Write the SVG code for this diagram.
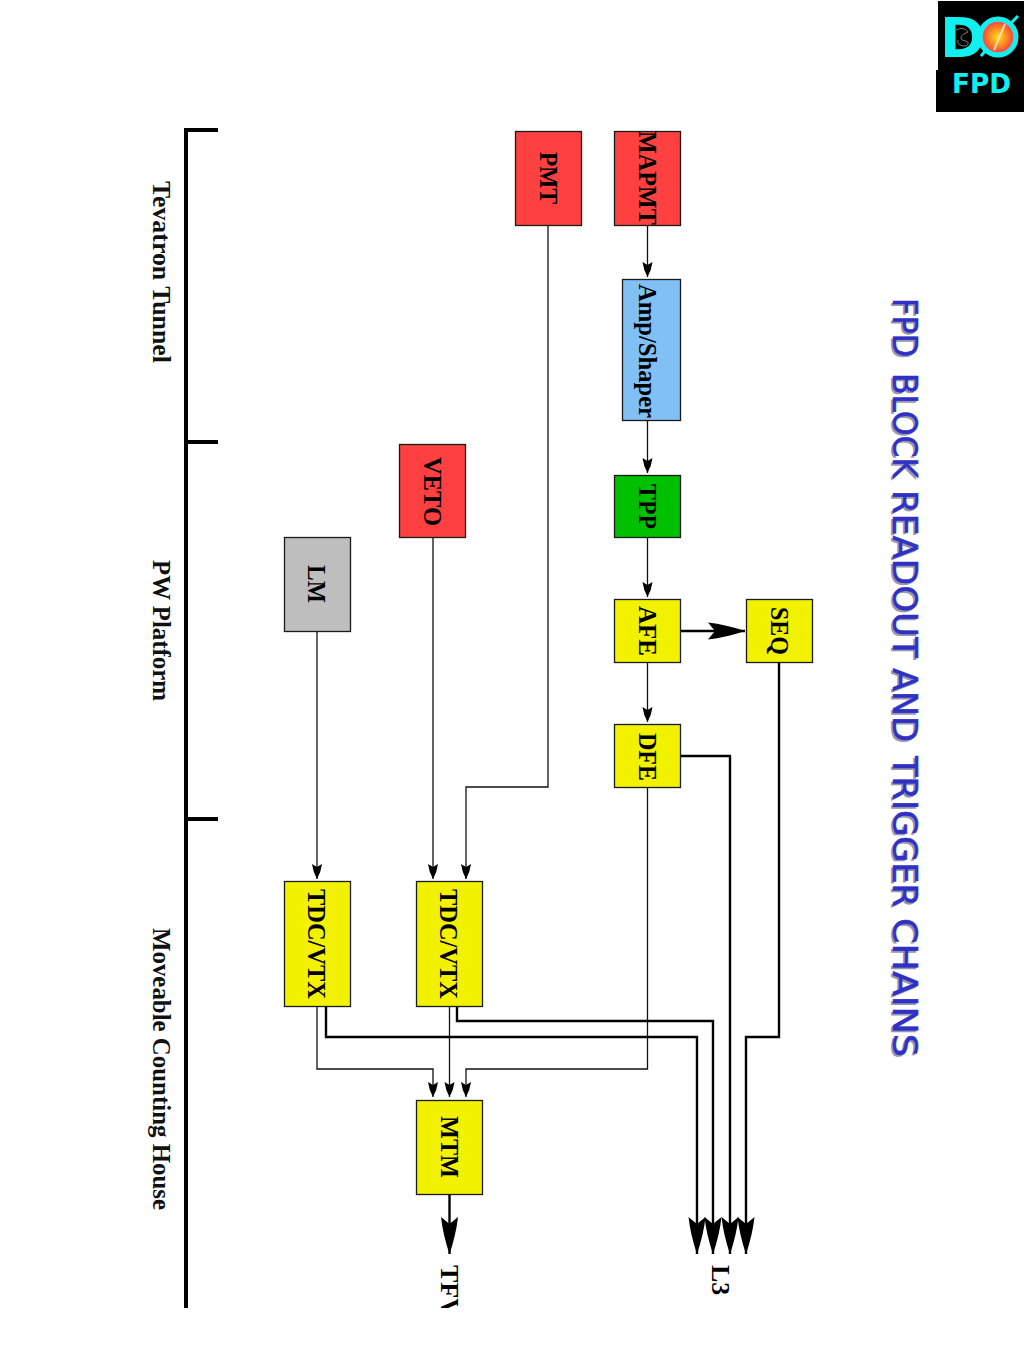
<svg xmlns="http://www.w3.org/2000/svg" width="1024" height="1365" viewBox="0 0 1024 1365">
<style>
.b{stroke:#1a1a1a;stroke-width:1.3}
.r{fill:#ff4040}.y{fill:#f2f200}.l{font:bold 26px "Liberation Serif",serif;fill:#000}
.t{font:bold 26px "Liberation Serif",serif;fill:#111}
.thin{fill:none;stroke:#111;stroke-width:1.3;marker-end:url(#s)}
.thick{fill:none;stroke:#000;stroke-width:2.4;marker-end:url(#L)}
.title{font:33px "DejaVu Sans",sans-serif}
.ts{fill:#6a6a90;opacity:.7}
.tf{fill:#3030c4;stroke:#3030c4;stroke-width:.5}
</style>
<defs>
<marker id="s" markerUnits="userSpaceOnUse" markerWidth="18" markerHeight="12" refX="15" refY="5" orient="auto"><path d="M0,0 Q8,1 15,5 Q8,9 0,10 L3,5Z" fill="#000"/></marker>
<marker id="L" markerUnits="userSpaceOnUse" markerWidth="40" markerHeight="20" refX="37" refY="9" orient="auto"><path d="M0,0.5 Q18,2.5 37,9 Q18,15.5 0,17.5 L7,9Z" fill="#000"/></marker>
<clipPath id="c"><rect x="430" y="1255" width="40" height="53"/></clipPath>
<radialGradient id="fire"><stop offset="0" stop-color="#ffe020"/><stop offset=".45" stop-color="#ff9020"/><stop offset=".8" stop-color="#f05040"/><stop offset="1" stop-color="#ffb0a0"/></radialGradient>
</defs>
<rect width="1024" height="1365" fill="#fff"/>
<g id="logo">
<path d="M938,1 H1024 V112 H936 V70 H938Z" fill="#000"/>
<text x="940" y="57" font-family="DejaVu Sans" font-weight="bold" font-size="55" fill="#10f0f0">D</text>
<path d="M956,30 Q964,26 968,32 Q958,36 962,40 Q972,42 966,46 Q956,46 958,40" fill="none" stroke="#777" stroke-width="1"/>
<circle cx="998" cy="37" r="18" fill="url(#fire)" stroke="#10f0f0" stroke-width="5"/>
<path d="M981,56 L986,50 M1010,24 L1018,16" stroke="#10f0f0" stroke-width="3"/>
<path d="M1005,24 L994,50" stroke="#fff0c0" stroke-width="2" opacity=".8"/>
<text x="952" y="93" font-family="DejaVu Sans" font-weight="bold" font-size="26" fill="#10f0f0" textLength="59" lengthAdjust="spacingAndGlyphs">FPD</text>
</g>
<g id="title">
<g class="title ts">
<text transform="translate(891,300) rotate(90)" textLength="59" lengthAdjust="spacingAndGlyphs">FPD</text>
<text transform="translate(891,375) rotate(90)" textLength="105" lengthAdjust="spacingAndGlyphs">BLOCK</text>
<text transform="translate(891,492) rotate(90)" textLength="168" lengthAdjust="spacingAndGlyphs">READOUT</text>
<text transform="translate(891,670) rotate(90)" textLength="74" lengthAdjust="spacingAndGlyphs">AND</text>
<text transform="translate(891,758) rotate(90)" textLength="151" lengthAdjust="spacingAndGlyphs">TRIGGER</text>
<text transform="translate(891,920) rotate(90)" textLength="139" lengthAdjust="spacingAndGlyphs">CHAINS</text>
</g>
<g class="title tf">
<text transform="translate(893,298) rotate(90)" textLength="59" lengthAdjust="spacingAndGlyphs">FPD</text>
<text transform="translate(893,373) rotate(90)" textLength="105" lengthAdjust="spacingAndGlyphs">BLOCK</text>
<text transform="translate(893,490) rotate(90)" textLength="168" lengthAdjust="spacingAndGlyphs">READOUT</text>
<text transform="translate(893,668) rotate(90)" textLength="74" lengthAdjust="spacingAndGlyphs">AND</text>
<text transform="translate(893,756) rotate(90)" textLength="151" lengthAdjust="spacingAndGlyphs">TRIGGER</text>
<text transform="translate(893,918) rotate(90)" textLength="139" lengthAdjust="spacingAndGlyphs">CHAINS</text>
</g></g>
<g id="locations">
<path d="M218,130 H186 V1308 M186,442 H218 M186,819 H218" fill="none" stroke="#000" stroke-width="4"/>
<text class="t" transform="translate(152.5,181) rotate(90)" textLength="182" lengthAdjust="spacingAndGlyphs">Tevatron Tunnel</text>
<text class="t" transform="translate(152.5,560) rotate(90)" textLength="141" lengthAdjust="spacingAndGlyphs">PW Platform</text>
<text class="t" transform="translate(152.5,928) rotate(90)" textLength="282" lengthAdjust="spacingAndGlyphs">Moveable Counting House</text>
</g>
<g id="connectors">
<path class="thin" d="M647.5,225 V277"/>
<path class="thin" d="M647.5,420 V473"/>
<path class="thin" d="M647.5,537 V597"/>
<path class="thin" d="M647.5,662 V722"/>
<path class="thin" d="M548,225 V787 H466 V879"/>
<path class="thin" d="M433,537 V879"/>
<path class="thin" d="M317,631 V879"/>
<path class="thin" d="M317,1006 V1069 H433 V1097"/>
<path class="thin" d="M449.5,1006 V1097"/>
<path class="thin" d="M647.5,787 V1069 H466 V1097"/>
<path class="thick" d="M681,631 H745"/>
<path class="thick" d="M681,756 H730 V1254"/>
<path class="thick" d="M779,662 V1037 H746 V1254"/>
<path class="thick" d="M457,1006 V1021 H713 V1254"/>
<path class="thick" d="M326,1006 V1037 H697 V1254"/>
<path class="thick" d="M449.5,1194 V1254"/>
</g>
<g id="MAPMT"><rect class="b r" x="614.5" y="131.5" width="66" height="94"/><text class="l" transform="translate(639,131) rotate(90)" textLength="94" lengthAdjust="spacingAndGlyphs">MAPMT</text></g>
<g id="PMT"><rect class="b r" x="515.5" y="131.5" width="66" height="94"/><text class="l" transform="translate(540,152) rotate(90)" textLength="52" lengthAdjust="spacingAndGlyphs">PMT</text></g>
<g id="AmpShaper"><rect class="b" fill="#80c0f5" x="622.5" y="279.5" width="58" height="141"/><text class="l" transform="translate(639,284) rotate(90)" textLength="134" lengthAdjust="spacingAndGlyphs">Amp/Shaper</text></g>
<g id="TPP"><rect class="b" fill="#00c000" x="614.5" y="475.5" width="66" height="62"/><text class="l" transform="translate(639,484) rotate(90)" textLength="45" lengthAdjust="spacingAndGlyphs">TPP</text></g>
<g id="AFE"><rect class="b y" x="614.5" y="599.5" width="66" height="63"/><text class="l" transform="translate(639,606) rotate(90)" textLength="50" lengthAdjust="spacingAndGlyphs">AFE</text></g>
<g id="SEQ"><rect class="b y" x="746.5" y="599.5" width="66" height="63"/><text class="l" transform="translate(771,607) rotate(90)" textLength="48" lengthAdjust="spacingAndGlyphs">SEQ</text></g>
<g id="DFE"><rect class="b y" x="614.5" y="724.5" width="66" height="63"/><text class="l" transform="translate(639,733) rotate(90)" textLength="48" lengthAdjust="spacingAndGlyphs">DFE</text></g>
<g id="VETO"><rect class="b r" x="399.5" y="444.5" width="66" height="93"/><text class="l" transform="translate(424,457) rotate(90)" textLength="69" lengthAdjust="spacingAndGlyphs">VETO</text></g>
<g id="LM"><rect class="b" fill="#bebebe" x="284.5" y="537.5" width="66" height="94"/><text class="l" transform="translate(308,565) rotate(90)" textLength="38" lengthAdjust="spacingAndGlyphs">LM</text></g>
<g id="TDC1"><rect class="b y" x="284.5" y="881.5" width="66" height="125"/><text class="l" transform="translate(308,889) rotate(90)" textLength="110" lengthAdjust="spacingAndGlyphs">TDC/VTX</text></g>
<g id="TDC2"><rect class="b y" x="416.5" y="881.5" width="66" height="125"/><text class="l" transform="translate(440,889) rotate(90)" textLength="110" lengthAdjust="spacingAndGlyphs">TDC/VTX</text></g>
<g id="MTM"><rect class="b y" x="416.5" y="1100.5" width="66" height="94"/><text class="l" transform="translate(441,1116) rotate(90)" textLength="62" lengthAdjust="spacingAndGlyphs">MTM</text></g>
<g id="TFV"><g clip-path="url(#c)"><text class="l" transform="translate(441,1265) rotate(90)">TFV</text></g></g>
<g id="L3"><text class="l" transform="translate(712,1265) rotate(90)">L3</text></g>
</svg>
